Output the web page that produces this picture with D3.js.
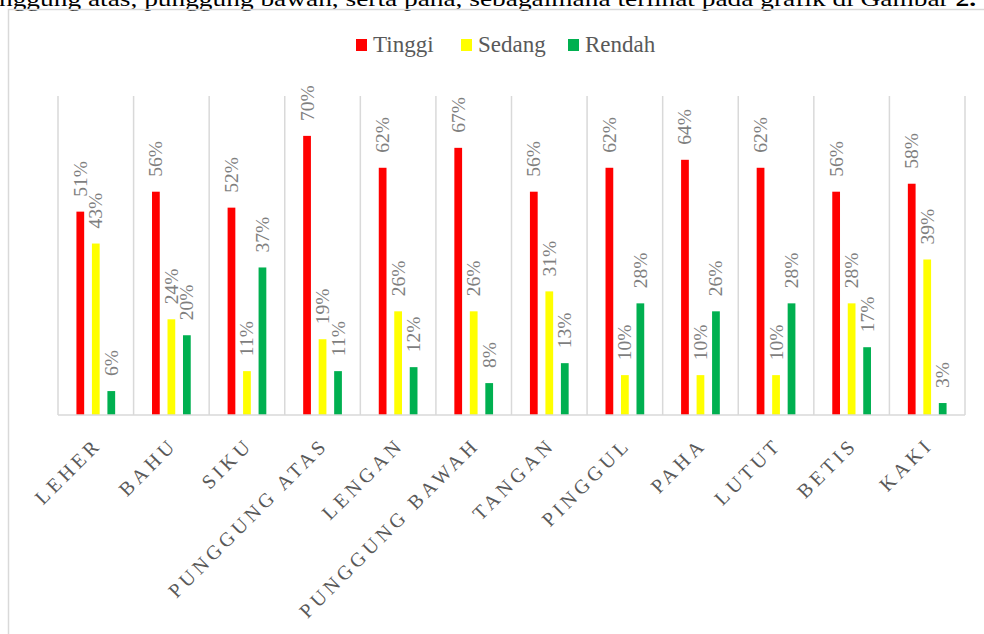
<!DOCTYPE html>
<html>
<head>
<meta charset="utf-8">
<script src="https://cdn.jsdelivr.net/npm/d3@7"></script>
<style>
  html, body { margin: 0; padding: 0; background: #fff; }
  svg { display: block; }
  text { font-family: "Liberation Serif", "Times New Roman", serif; }
</style>
</head>
<body>
<svg id="chart" width="984" height="634"></svg>
<script>
// ---- data ----
const categories = ["LEHER", "BAHU", "SIKU", "PUNGGUNG ATAS", "LENGAN", "PUNGGUNG BAWAH",
                    "TANGAN", "PINGGUL", "PAHA", "LUTUT", "BETIS", "KAKI"];
const seriesNames = ["Tinggi", "Sedang", "Rendah"];
const tinggi = [51, 56, 52, 70, 62, 67, 56, 62, 64, 62, 56, 58];
const sedang = [43, 24, 11, 19, 26, 26, 31, 10, 10, 10, 28, 39];
const rendah = [6, 20, 37, 11, 12, 8, 13, 28, 26, 28, 17, 3];
const seriesColors = ["#FF0000", "#FFFF00", "#00B050"];
const headerText = "nggung atas, punggung bawah, serta paha, sebagaimana terlihat pada grafik di Gambar ";
const headerBold = "2.";

const seriesValues = [tinggi, sedang, rendah];
const FONT = "'Liberation Serif', 'Times New Roman', serif";

const svg = d3.select("#chart");

// header text (cut off at top, as in the reference)
const ht = svg.append("text")
  .attr("x", -1).attr("y", 6)
  .attr("font-family", FONT)
  .attr("font-size", 22)
  .attr("fill", "#000")
  .attr("textLength", 977)
  .attr("lengthAdjust", "spacingAndGlyphs");
ht.append("tspan").text(headerText);
ht.append("tspan").attr("font-weight", "bold").text(headerBold);

// chart border
svg.append("rect")
  .attr("x", 8.5).attr("y", 9.5)
  .attr("width", 1100).attr("height", 1000)
  .attr("fill", "none").attr("stroke", "#d9d9d9").attr("stroke-width", 1.5);

// scales
const x0 = d3.scaleBand().domain(categories).range([58, 965]).paddingInner(0).paddingOuter(0);
const x1 = d3.scaleBand().domain(seriesNames).range([0, x0.bandwidth()])
  .paddingInner(0.5).paddingOuter(1.19);
const y = d3.scaleLinear().domain([0, 80]).range([415, 96]);

// vertical gridlines at category boundaries
const bounds = categories.map(c => x0(c)).concat([x0.range()[1]]);
svg.append("g").selectAll("line").data(bounds).join("line")
  .attr("x1", d => d).attr("x2", d => d)
  .attr("y1", y(80)).attr("y2", y(0))
  .attr("stroke", "#d9d9d9").attr("stroke-width", 1.5);

// bars
const rows = categories.map((c, i) => ({ cat: c, vals: seriesNames.map((s, j) => ({ s, j, v: seriesValues[j][i] })) }));
const groups = svg.append("g").selectAll("g").data(rows).join("g")
  .attr("transform", d => `translate(${x0(d.cat)},0)`);

groups.selectAll("rect").data(d => d.vals).join("rect")
  .attr("x", d => x1(d.s))
  .attr("width", x1.bandwidth())
  .attr("y", d => y(d.v))
  .attr("height", d => y(0) - y(d.v))
  .attr("fill", d => seriesColors[d.j]);

// data labels (rotated)
groups.selectAll("text").data(d => d.vals).join("text")
  .attr("transform", d => `translate(${x1(d.s) + x1.bandwidth() / 2},${y(d.v) - 15}) rotate(-90)`)
  .attr("text-anchor", "start")
  .attr("dominant-baseline", "central")
  .attr("font-family", FONT)
  .attr("font-size", 19.5)
  .attr("fill", "#7f7f7f")
  .text(d => d.v + "%");

// x axis baseline
svg.append("line")
  .attr("x1", 58).attr("x2", 965)
  .attr("y1", y(0)).attr("y2", y(0))
  .attr("stroke", "#d9d9d9").attr("stroke-width", 1.5);

// x axis labels
svg.append("g").selectAll("text").data(categories).join("text")
  .attr("transform", d => `translate(${x0(d) + x0.bandwidth() / 2 + 7},${y(0) + 31}) rotate(-45)`)
  .attr("text-anchor", "end")
  .attr("font-family", FONT)
  .attr("font-size", 20)
  .attr("letter-spacing", 4)
  .attr("fill", "#595959")
  .text(d => d);

// legend
const legendX = [356, 461, 568];
const lg = svg.append("g").selectAll("g").data(seriesNames).join("g")
  .attr("transform", (d, i) => `translate(${legendX[i]},0)`);
lg.append("rect")
  .attr("x", 0).attr("y", 39).attr("width", 11).attr("height", 12)
  .attr("fill", (d, i) => seriesColors[i]);
lg.append("text")
  .attr("x", 17).attr("y", 52)
  .attr("font-family", FONT)
  .attr("font-size", 23)
  .attr("fill", "#595959")
  .text(d => d);
</script>
</body>
</html>
